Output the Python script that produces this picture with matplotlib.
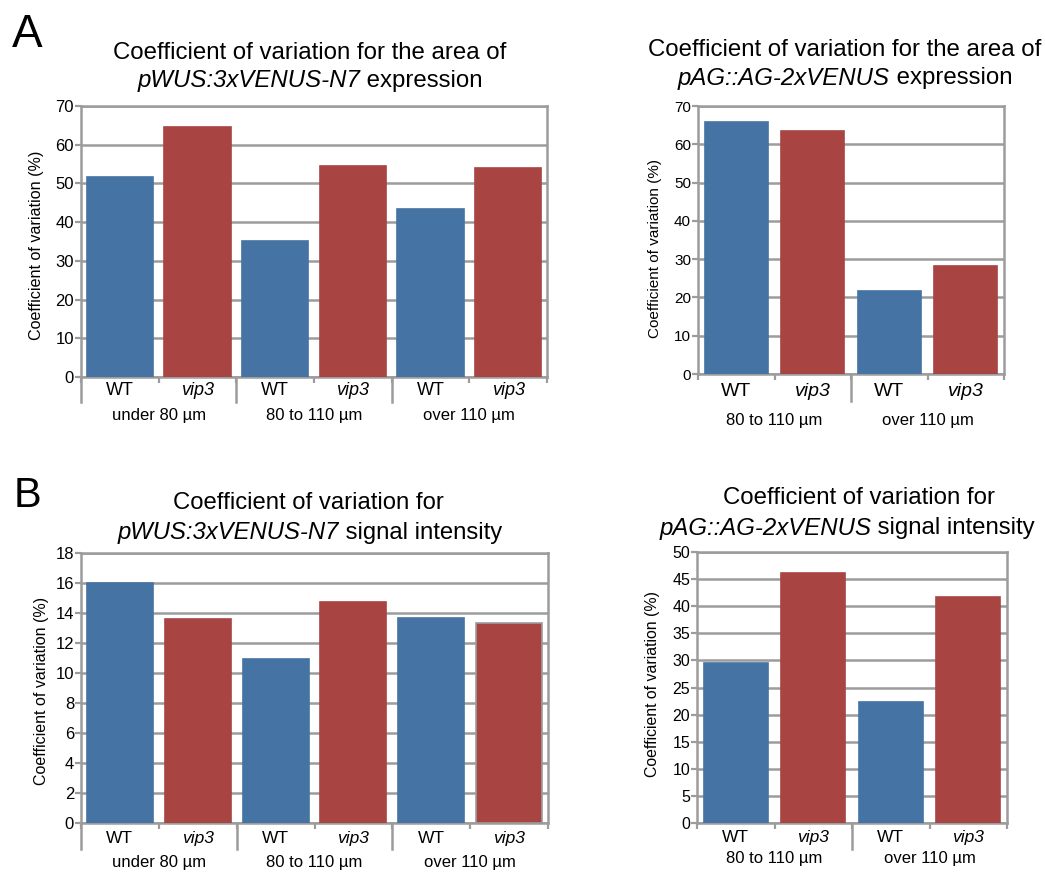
import matplotlib.pyplot as plt
from matplotlib.transforms import blended_transform_factory

plt.rcParams['font.family'] = ['Liberation Sans', 'DejaVu Sans']

W, H = 1045, 872
BLUE = '#4573a3'
RED = '#a84442'
GRID = '#9c9c9c'

genotypes = ['WT', 'vip3']
groups_3 = ['under 80 µm', '80 to 110 µm', 'over 110 µm']
groups_2 = ['80 to 110 µm', 'over 110 µm']

# values in %, WT / vip3 pairs per size group
area_wus = [51.7, 64.5, 35.2, 54.4, 43.4, 53.9]
area_ag = [65.8, 63.4, 21.6, 28.3]
signal_wus = [16.0, 13.6, 10.95, 14.75, 13.65, 13.35]
signal_ag = [29.5, 46.1, 22.4, 41.7]

fig = plt.figure(figsize=(W / 100, H / 100), dpi=100)


def fx(x):
    return x / W


def fy(y):
    return 1 - y / H


def text_line(cx, y, parts, size):
    texts = [fig.text(0, fy(y), s, fontsize=size, style=st, va='center', ha='left')
             for s, st in parts]
    r = fig.canvas.get_renderer()
    widths = [t.get_window_extent(r).width for t in texts]
    x0 = cx - sum(widths) / 2
    for t, w in zip(texts, widths):
        t.set_x(fx(x0))
        x0 += w


def panel(box, values, groups, ymax, ystep, bw, seps, sep_bottom,
          geno_y, group_y, geno_fs, group_fs, tick_fs, edge_last=False):
    l, t, r, b = box
    ax = fig.add_axes([fx(l), fy(b), fx(r) - fx(l), fy(t) - fy(b)])
    n = len(values)
    colors = [BLUE, RED] * (n // 2)
    edges = colors[:]
    if edge_last:
        edges[-1] = GRID
    ax.bar(range(n), values, width=bw, color=colors, edgecolor=edges,
           linewidth=1.2, zorder=3)
    ax.set_xlim(-0.5, n - 0.5)
    ax.set_ylim(0, ymax)
    ax.set_yticks(range(0, ymax + 1, ystep))
    ax.yaxis.grid(True, color=GRID, lw=1.8)
    ax.set_axisbelow(True)
    for s in ax.spines.values():
        s.set_color(GRID)
        s.set_linewidth(1.8)
    ax.set_xticks([i - 0.5 for i in range(n + 1)])
    ax.set_xticklabels([])
    ax.tick_params(axis='both', colors=GRID, length=4, width=1.6,
                   labelcolor='black', labelsize=tick_fs, pad=1)

    def ay(ypx):
        return (b - ypx) / (b - t)

    tr = blended_transform_factory(ax.transData, ax.transAxes)
    for i in range(n):
        ax.text(i, ay(geno_y), genotypes[i % 2], transform=tr, ha='center',
                va='center', fontsize=geno_fs,
                style='italic' if i % 2 else 'normal')
    for g, name in enumerate(groups):
        ax.text(2 * g + 0.5, ay(group_y), name, transform=tr, ha='center',
                va='center', fontsize=group_fs)
    for s in seps:
        ax.plot([s - 0.5, s - 0.5], [0, ay(sep_bottom)], transform=tr,
                color=GRID, lw=1.8, clip_on=False)
    return ax


# A left
panel((81, 106, 547, 377), area_wus, groups_3, 70, 10, 0.85, [0, 2, 4], 402,
      390, 415, 13, 12, 12)
text_line(310, 53, [('Coefficient of variation for the area of', 'normal')], 17.3)
text_line(310, 81, [('pWUS:3xVENUS-N7', 'italic'), (' expression', 'normal')], 17.3)
fig.text(fx(37), fy(245), 'Coefficient of variation (%)', rotation=90,
         ha='center', va='center', fontsize=11.6)

# A right
panel((698, 106, 1004, 374), area_ag, groups_2, 70, 10, 0.83, [2], 401,
      392, 420, 14, 12, 11)
text_line(845, 50, [('Coefficient of variation for the area of', 'normal')], 17.3)
text_line(845, 78, [('pAG::AG-2xVENUS', 'italic'), (' expression', 'normal')], 17.3)
fig.text(fx(655), fy(248), 'Coefficient of variation (%)', rotation=90,
         ha='center', va='center', fontsize=11)

# B left
panel((81, 553, 548, 823), signal_wus, groups_3, 18, 2, 0.85, [0, 2, 4], 849,
      838, 862, 12.5, 12, 12, edge_last=True)
text_line(308, 503, [('Coefficient of variation for', 'normal')], 17.2)
text_line(310, 533, [('pWUS:3xVENUS-N7', 'italic'), (' signal intensity', 'normal')], 17.2)
fig.text(fx(42), fy(691), 'Coefficient of variation (%)', rotation=90,
         ha='center', va='center', fontsize=11.5)

# B right
panel((697, 552, 1007, 823), signal_ag, groups_2, 50, 5, 0.83, [2], 849,
      837, 858, 12.5, 12, 11.5)
text_line(859, 498, [('Coefficient of variation for', 'normal')], 17.3)
text_line(847, 528, [('pAG::AG-2xVENUS', 'italic'), (' signal intensity', 'normal')], 17.3)
fig.text(fx(653), fy(684), 'Coefficient of variation (%)', rotation=90,
         ha='center', va='center', fontsize=11.4)

fig.text(fx(12), fy(35), 'A', fontsize=33, ha='left', va='center')
fig.text(fx(14), fy(496), 'B', fontsize=30, ha='left', va='center')

fig.savefig('out.png', dpi=100)
